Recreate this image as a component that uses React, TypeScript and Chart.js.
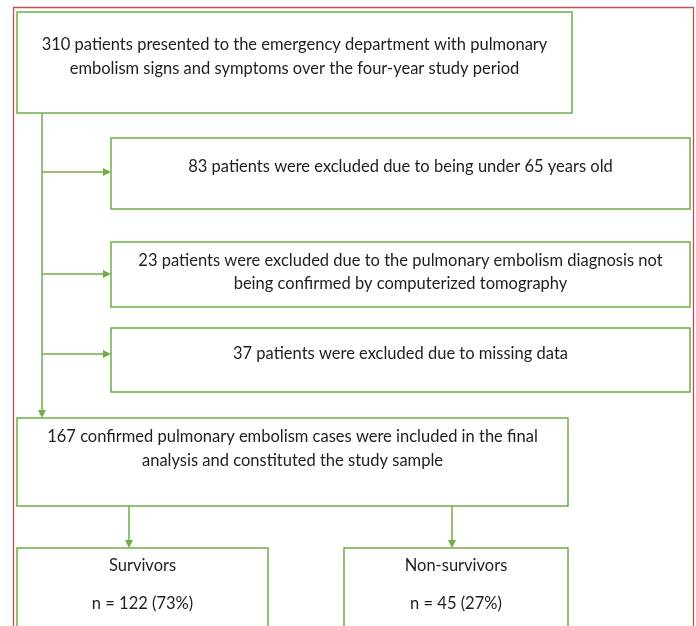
import React, { useEffect, useRef } from "react";
import { Chart, registerables } from "chart.js";
Chart.register(...registerables);

// ---- content ----
const screenedText = [
  "310 patients presented to the emergency department with pulmonary",
  "embolism signs and symptoms over the four-year study period",
];
const exclusionTexts = [
  ["83 patients were excluded due to being under 65 years old"],
  [
    "23 patients were excluded due to the pulmonary embolism diagnosis not",
    "being confirmed by computerized tomography",
  ],
  ["37 patients were excluded due to missing data"],
];
const includedText = [
  "167 confirmed pulmonary embolism cases were included in the final",
  "analysis and constituted the study sample",
];
const outcomeLabels = ["Survivors", "Non-survivors"];
const outcomeCounts = [122, 45];
const outcomePercents = [73, 27];

// ---- layout (pixel space of the 696x626 page) ----
const W = 696;
const H = 626;
type Box = { x0: number; x1: number; y0: number; y1: number; lines: string[]; ty: number[] };
const boxes: Box[] = [
  { x0: 17, x1: 572, y0: 12, y1: 113, lines: screenedText, ty: [45, 69] },
  { x0: 111, x1: 690, y0: 138, y1: 209, lines: exclusionTexts[0], ty: [167] },
  { x0: 111, x1: 690, y0: 242, y1: 307, lines: exclusionTexts[1], ty: [261, 284] },
  { x0: 111, x1: 690, y0: 328, y1: 392, lines: exclusionTexts[2], ty: [354] },
  { x0: 17, x1: 568, y0: 418, y1: 506, lines: includedText, ty: [437, 461] },
  {
    x0: 17, x1: 268, y0: 548, y1: 640,
    lines: [outcomeLabels[0], "", `n = ${outcomeCounts[0]} (${outcomePercents[0]}%)`],
    ty: [566, 585, 604],
  },
  {
    x0: 344, x1: 568, y0: 548, y1: 640,
    lines: [outcomeLabels[1], "", `n = ${outcomeCounts[1]} (${outcomePercents[1]}%)`],
    ty: [566, 585, 604],
  },
];
const spineX = 42;
const branchY = [172, 274, 354];
const downArrowsX = [129, 452];

const GREEN = "#70ad47";
const RED = "#c0504d";

const flowPlugin = {
  id: "flow",
  afterDraw(chart: any) {
    const { ctx } = chart;
    const sx = chart.scales.x;
    const sy = chart.scales.y;
    const px = (v: number) => sx.getPixelForValue(v);
    const py = (v: number) => sy.getPixelForValue(v);
    ctx.save();
    // outer frame
    ctx.strokeStyle = RED;
    ctx.lineWidth = 1.3;
    ctx.beginPath();
    ctx.moveTo(px(13.5), py(640));
    ctx.lineTo(px(13.5), py(7.5));
    ctx.lineTo(px(693.5), py(7.5));
    ctx.lineTo(px(693.5), py(640));
    ctx.stroke();

    ctx.strokeStyle = GREEN;
    ctx.fillStyle = GREEN;
    ctx.lineWidth = 1.5;
    const arrowHead = (x: number, y: number, dir: "right" | "down") => {
      ctx.beginPath();
      if (dir === "right") {
        ctx.moveTo(px(x), py(y));
        ctx.lineTo(px(x - 8), py(y - 4));
        ctx.lineTo(px(x - 8), py(y + 4));
      } else {
        ctx.moveTo(px(x), py(y));
        ctx.lineTo(px(x - 4), py(y - 8));
        ctx.lineTo(px(x + 4), py(y - 8));
      }
      ctx.closePath();
      ctx.fill();
    };
    const line = (x0: number, y0: number, x1: number, y1: number) => {
      ctx.beginPath();
      ctx.moveTo(px(x0), py(y0));
      ctx.lineTo(px(x1), py(y1));
      ctx.stroke();
    };
    // spine
    line(spineX, boxes[0].y1, spineX, boxes[4].y0 - 7);
    arrowHead(spineX, boxes[4].y0, "down");
    branchY.forEach((y, i) => {
      line(spineX, y, boxes[i + 1].x0 - 7, y);
      arrowHead(boxes[i + 1].x0, y, "right");
    });
    downArrowsX.forEach((x) => {
      line(x, boxes[4].y1, x, boxes[5].y0 - 7);
      arrowHead(x, boxes[5].y0, "down");
    });
    // boxes
    ctx.lineWidth = 1.5;
    boxes.forEach((b) => {
      ctx.strokeRect(px(b.x0), py(b.y0), px(b.x1) - px(b.x0), py(b.y1) - py(b.y0));
    });
    // text
    ctx.fillStyle = "#1e1e1e";
    ctx.font = "16.5px Lato, 'Open Sans', sans-serif";
    ctx.textAlign = "center";
    ctx.textBaseline = "middle";
    boxes.forEach((b) => {
      const cx = (b.x0 + b.x1) / 2;
      b.lines.forEach((t, i) => {
        if (t) ctx.fillText(t, px(cx), py(b.ty[i]));
      });
    });
    ctx.restore();
  },
};

export default function App() {
  const ref = useRef<HTMLCanvasElement | null>(null);
  useEffect(() => {
    if (!ref.current) return;
    const chart = new Chart(ref.current, {
      type: "scatter",
      data: { datasets: [{ data: [], pointRadius: 0 }] },
      options: {
        animation: false,
        responsive: false,
        maintainAspectRatio: false,
        layout: { padding: 0 },
        plugins: { legend: { display: false }, tooltip: { enabled: false } },
        scales: {
          x: { type: "linear", min: 0, max: W, display: false },
          y: { type: "linear", min: 0, max: H, reverse: true, display: false },
        },
      },
      plugins: [flowPlugin],
    });
    return () => chart.destroy();
  }, []);
  return (
    <div style={{ position: "fixed", left: 0, top: 0, width: W, height: H, background: "#fff" }}>
      <canvas ref={ref} width={W} height={H} style={{ width: W, height: H, display: "block" }} />
    </div>
  );
}
